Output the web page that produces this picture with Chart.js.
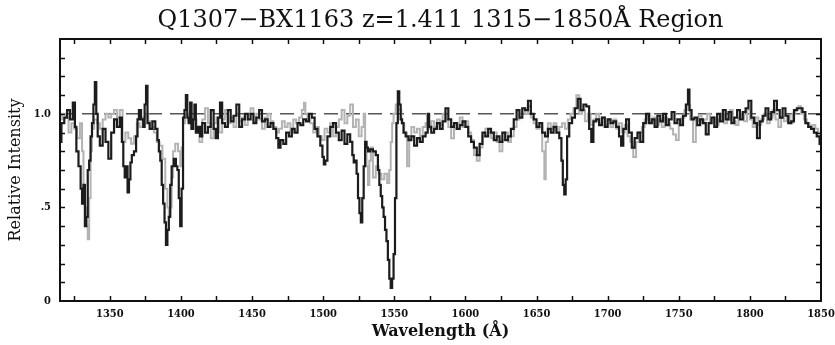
<!DOCTYPE html>
<html>
<head>
<meta charset="utf-8">
<script src="https://cdn.jsdelivr.net/npm/chart.js@4/dist/chart.umd.min.js"></script>
<style>
  html, body { margin: 0; padding: 0; background: #fff; }
  #wrap { width: 835px; height: 345px; position: relative; }
</style>
</head>
<body>
<div id="wrap"><canvas id="specChart"></canvas></div>
<script>
// spectrum 1 (dark trace): wavelength (A) and relative intensity
const blackWave = [
  1315,1317,1319,1321,1323,1325,1326,1327,1329,1330,1331,1332,1333,1334,1335,1336,1337,1338,1339,1340,
  1341,1342,1344,1346,1348,1350,1352,1354,1356,1358,1359,1360,1361,1362,1363,1364,1365,1366,1368,1369,
  1370,1371,1373,1374,1375,1376,1377,1379,1381,1383,1384,1385,1386,1387,1388,1389,1390,1391,1392,1393,
  1394,1396,1397,1398,1399,1400,1401,1402,1403,1404,1405,1406,1407,1408,1409,1410,1411,1413,1414,1416,
  1418,1420,1422,1424,1425,1427,1428,1430,1432,1434,1436,1438,1440,1442,1444,1446,1448,1450,1452,1454,
  1456,1458,1460,1462,1464,1466,1468,1469,1471,1473,1475,1477,1479,1481,1483,1485,1487,1489,1491,1493,
  1495,1497,1499,1500,1501,1502,1504,1506,1508,1510,1512,1514,1516,1518,1520,1521,1522,1523,1524,1525,
  1526,1527,1528,1529,1530,1531,1532,1534,1536,1538,1539,1540,1541,1542,1543,1544,1545,1546,1547,1548,
  1549,1550,1551,1552,1553,1554,1555,1556,1557,1559,1561,1563,1565,1567,1569,1571,1573,1574,1575,1577,
  1579,1581,1583,1585,1587,1589,1591,1593,1595,1597,1599,1601,1603,1605,1607,1609,1611,1613,1615,1617,
  1619,1621,1623,1625,1627,1629,1631,1633,1635,1637,1639,1641,1643,1645,1647,1649,1651,1653,1655,1657,
  1659,1661,1663,1665,1667,1668,1669,1670,1671,1672,1674,1676,1678,1680,1682,1684,1686,1688,1689,1691,
  1693,1695,1697,1699,1701,1703,1705,1707,1709,1710,1712,1714,1716,1718,1720,1722,1724,1726,1728,1730,
  1732,1734,1736,1738,1740,1742,1744,1746,1748,1750,1752,1754,1756,1757,1758,1760,1762,1764,1766,1768,
  1770,1772,1774,1776,1778,1780,1782,1784,1786,1788,1790,1792,1794,1796,1798,1800,1802,1804,1806,1808,
  1810,1812,1814,1816,1818,1820,1822,1824,1826,1828,1830,1832,1834,1836,1838,1840,1842,1844,1846,1848,
  1850
];
const blackFlux = [
  0.85,0.95,0.98,1.02,0.97,1.06,0.93,0.80,0.72,0.60,0.52,0.62,0.40,0.45,0.70,0.75,0.88,0.95,1.05,1.17,
  1.00,0.88,0.83,0.92,0.85,0.76,0.90,0.97,0.93,0.98,0.85,0.72,0.66,0.72,0.58,0.65,0.74,0.78,0.80,0.88,
  0.97,1.02,0.97,0.93,1.05,1.15,0.95,0.92,0.96,0.92,0.86,0.80,0.75,0.62,0.52,0.42,0.30,0.38,0.45,0.62,
  0.72,0.76,0.72,0.70,0.55,0.40,0.60,0.98,1.02,1.10,0.98,0.95,1.06,0.92,0.97,1.05,0.90,0.93,0.88,0.95,
  0.90,0.93,1.02,0.92,0.87,0.98,1.06,0.95,0.93,1.02,0.96,0.99,1.05,0.93,0.97,1.00,0.97,1.00,0.95,0.98,
  1.02,0.96,0.97,0.93,0.95,0.92,0.87,0.82,0.86,0.84,0.90,0.88,0.92,0.90,0.95,0.94,0.97,0.96,1.00,0.98,
  0.92,0.88,0.83,0.77,0.73,0.75,0.88,0.93,0.95,0.90,0.86,0.91,0.84,0.89,0.85,0.78,0.74,0.75,0.68,0.55,
  0.47,0.42,0.55,0.72,0.85,0.82,0.80,0.81,0.80,0.78,0.70,0.62,0.56,0.50,0.45,0.38,0.32,0.22,0.12,0.07,
  0.12,0.25,0.55,0.95,1.12,1.05,0.97,0.95,0.90,0.88,0.86,0.88,0.83,0.87,0.85,0.88,0.90,1.00,0.93,0.90,
  0.92,0.95,0.92,0.96,1.03,0.97,0.93,0.95,0.92,0.94,0.96,0.93,0.88,0.85,0.82,0.78,0.84,0.90,0.88,0.92,
  0.90,0.86,0.88,0.85,0.90,0.86,0.88,0.92,0.97,1.02,0.98,1.03,1.02,1.07,1.00,0.97,0.93,0.95,0.90,0.88,
  0.92,0.90,0.93,0.90,0.87,0.75,0.62,0.57,0.65,0.88,0.95,0.98,1.03,1.08,1.02,1.05,1.04,0.92,0.85,0.96,
  0.97,0.94,0.98,0.93,0.97,0.95,0.96,0.93,0.88,0.83,0.92,0.97,0.90,0.82,0.87,0.90,0.85,0.95,1.00,0.95,
  0.97,0.93,0.99,0.96,1.00,0.94,0.97,1.01,0.95,0.97,0.94,0.99,1.05,1.13,1.02,0.97,0.98,0.94,0.97,0.95,
  0.89,0.95,0.98,0.93,1.00,0.96,1.02,0.97,1.01,0.95,0.98,1.02,0.97,1.01,1.03,1.07,0.98,0.95,0.87,0.96,
  0.99,1.03,0.97,1.01,1.07,1.02,0.98,1.03,0.99,0.95,0.96,1.02,1.03,1.03,1.01,0.95,0.93,0.92,0.90,0.88,
  0.84
];

// spectrum 2 (light trace)
const grayWave = [
  1315,1318,1320,1322,1324,1326,1328,1330,1331,1332,1333,1334,1335,1336,1337,1338,1340,1342,1344,1346,
  1348,1350,1352,1354,1356,1358,1360,1362,1364,1366,1368,1370,1372,1374,1376,1378,1380,1382,1384,1386,
  1388,1390,1391,1392,1393,1394,1395,1397,1399,1400,1401,1402,1404,1406,1408,1410,1412,1414,1416,1418,
  1420,1422,1424,1426,1428,1430,1432,1434,1436,1438,1440,1442,1444,1446,1448,1450,1452,1454,1456,1458,
  1460,1462,1464,1466,1468,1470,1472,1474,1476,1478,1480,1482,1484,1486,1487,1488,1490,1492,1494,1496,
  1498,1500,1502,1504,1506,1508,1510,1512,1514,1516,1518,1520,1522,1524,1526,1528,1529,1530,1531,1532,
  1533,1534,1536,1538,1540,1542,1544,1546,1547,1548,1549,1550,1552,1554,1556,1558,1560,1561,1563,1565,
  1567,1569,1571,1573,1575,1577,1579,1581,1583,1585,1587,1589,1591,1593,1595,1597,1599,1601,1603,1605,
  1607,1609,1611,1613,1615,1617,1619,1621,1623,1625,1627,1629,1631,1633,1635,1637,1639,1641,1643,1645,
  1647,1649,1651,1653,1655,1656,1657,1659,1661,1663,1665,1667,1669,1671,1673,1675,1677,1679,1681,1683,
  1685,1687,1689,1691,1693,1695,1697,1699,1701,1703,1705,1707,1709,1711,1713,1715,1717,1719,1721,1723,
  1725,1727,1729,1731,1733,1735,1737,1739,1741,1743,1745,1747,1749,1751,1753,1755,1757,1759,1761,1763,
  1765,1767,1769,1771,1773,1775,1777,1779,1781,1783,1785,1787,1789,1791,1793,1795,1797,1799,1801,1803,
  1805,1807,1809,1811,1813,1815,1817,1819,1821,1823,1825,1827,1829,1831,1833,1835,1837,1839,1841,1843,
  1845,1847,1849
];
const grayFlux = [
  0.97,1.00,0.98,0.90,0.95,0.92,0.87,0.95,0.80,0.60,0.50,0.40,0.33,0.55,0.80,0.92,0.97,0.95,0.92,0.97,
  1.00,0.98,1.00,1.02,0.98,1.02,0.85,0.90,0.87,0.84,0.88,0.95,0.93,0.98,1.00,0.96,0.93,0.90,0.85,0.83,
  0.76,0.60,0.50,0.45,0.50,0.66,0.80,0.84,0.80,0.72,0.82,0.95,1.00,0.96,0.92,0.97,0.93,0.85,0.97,1.03,
  0.95,0.87,0.95,0.98,0.90,0.97,1.02,0.95,0.98,0.93,1.00,0.96,0.98,0.94,1.00,1.03,0.96,1.00,0.97,0.92,
  0.98,1.00,0.96,0.93,0.90,0.92,0.96,0.93,0.95,0.90,0.97,0.95,0.98,1.02,1.06,1.00,0.97,0.95,0.90,0.93,
  0.88,0.86,0.92,0.90,0.95,0.88,0.93,0.97,1.02,0.95,0.99,1.05,0.93,0.97,0.88,0.93,1.00,0.85,0.72,0.62,
  0.75,0.82,0.66,0.72,0.68,0.65,0.68,0.63,0.70,0.85,0.95,1.00,1.05,1.02,0.95,0.90,0.72,0.88,0.93,0.90,
  0.92,0.88,0.93,0.95,0.92,0.96,0.93,0.97,0.94,1.00,0.97,0.93,0.87,0.92,0.95,0.98,0.93,0.96,0.90,0.86,
  0.78,0.75,0.82,0.88,0.92,0.90,0.87,0.90,0.85,0.80,0.86,0.90,0.85,0.88,0.93,0.97,1.00,1.03,1.00,1.04,
  0.98,0.95,0.92,0.93,0.80,0.65,0.85,0.95,0.92,0.95,0.90,0.93,0.95,0.92,0.97,1.00,1.03,1.10,1.00,1.02,
  0.96,1.00,0.94,0.97,1.00,0.95,0.98,0.94,0.97,0.93,0.97,0.92,0.95,0.90,0.94,0.88,0.85,0.77,0.85,0.90,
  0.93,0.97,1.00,0.95,0.98,0.94,0.97,0.93,0.98,0.95,0.92,0.89,0.86,0.95,0.98,1.02,1.05,0.97,0.85,0.96,
  0.99,0.95,0.97,1.00,0.95,0.98,0.94,0.97,1.00,0.95,0.97,1.02,0.96,0.94,0.98,1.00,0.96,1.02,0.97,0.93,
  0.98,0.94,0.97,1.00,0.95,0.98,1.02,0.97,0.93,0.98,0.96,0.99,0.95,1.00,1.02,1.04,1.00,0.97,0.95,0.93,
  0.94,0.92,0.90
];

// continuum level (dashed)
const continuumWave = [1315, 1850];
const continuumFlux = [1.0, 1.0];

// axes
const xRange = [1315, 1850];
const yRange = [0, 1.4];
const xTickLabels = [1350, 1400, 1450, 1500, 1550, 1600, 1650, 1700, 1750, 1800, 1850];
const xMinorTicks = [1325, 1350, 1375, 1400, 1425, 1450, 1475, 1500, 1525, 1550, 1575, 1600, 1625,
                     1650, 1675, 1700, 1725, 1750, 1775, 1800, 1825];
const yTickLabels = [0, 0.5, 1.0];
const yTickText = ['0', '.5', '1.0'];
const yMinorTicks = [0.1, 0.2, 0.3, 0.4, 0.5, 0.6, 0.7, 0.8, 0.9, 1.0, 1.1, 1.2, 1.3];

const titleText = 'Q1307\u2212BX1163 z=1.411 1315\u22121850\u00C5 Region';
const xTitle = 'Wavelength (\u00C5)';
const yTitle = 'Relative Intensity';

const SERIF = "'DejaVu Serif', 'Liberation Serif', serif";
const SERIF_COND = "'DejaVu Serif Condensed', 'DejaVu Serif', serif";

function toPoints(w, f) {
    return w.map((x, i) => ({ x: x, y: f[i] }));
}

// frame, inward tick marks and the title centred over the plot box
const framePlugin = {
    id: 'frame',
    afterDraw(chart) {
        const { ctx, chartArea: a, scales } = chart;
        const tl = 5;
        ctx.save();
        ctx.strokeStyle = '#111';
        ctx.lineWidth = 2;
        ctx.strokeRect(a.left, a.top, a.right - a.left, a.bottom - a.top);
        ctx.lineWidth = 1.5;
        ctx.beginPath();
        xMinorTicks.forEach(v => {
            const px = Math.round(scales.x.getPixelForValue(v)) + 0.5;
            ctx.moveTo(px, a.bottom); ctx.lineTo(px, a.bottom - tl);
            ctx.moveTo(px, a.top); ctx.lineTo(px, a.top + tl);
        });
        yMinorTicks.forEach(v => {
            const py = Math.round(scales.y.getPixelForValue(v)) + 0.5;
            ctx.moveTo(a.left, py); ctx.lineTo(a.left + tl, py);
            ctx.moveTo(a.right, py); ctx.lineTo(a.right - tl, py);
        });
        ctx.stroke();

        ctx.fillStyle = '#111';
        ctx.font = '24px ' + SERIF;
        ctx.textAlign = 'center';
        ctx.textBaseline = 'alphabetic';
        ctx.fillText(titleText, (a.left + a.right) / 2, 27);
        ctx.restore();
    }
};

const tickFont = { family: SERIF_COND, size: 11, weight: 'bold' };

new Chart(document.getElementById('specChart'), {
    type: 'line',
    data: {
        datasets: [
            {
                data: toPoints(continuumWave, continuumFlux),
                borderColor: '#555',
                borderWidth: 1.5,
                borderDash: [14, 8],
                pointRadius: 0,
                order: 3
            },
            {
                data: toPoints(grayWave, grayFlux),
                borderColor: '#b3b3b3',
                borderWidth: 2,
                stepped: 'middle',
                pointRadius: 0,
                order: 2
            },
            {
                data: toPoints(blackWave, blackFlux),
                borderColor: '#1c1c1c',
                borderWidth: 2.2,
                stepped: 'middle',
                pointRadius: 0,
                order: 1
            }
        ]
    },
    options: {
        responsive: true,
        maintainAspectRatio: false,
        animation: false,
        layout: { padding: { left: 0, right: 14, top: 39, bottom: 0 } },
        plugins: {
            legend: { display: false },
            tooltip: { enabled: false },
            title: { display: false }
        },
        scales: {
            x: {
                type: 'linear',
                min: xRange[0],
                max: xRange[1],
                afterBuildTicks: s => { s.ticks = xTickLabels.map(v => ({ value: v })); },
                afterFit: s => { s.height = 44; s.paddingLeft = 0; s.paddingRight = 0; },
                grid: { display: false, drawTicks: false },
                border: { display: false },
                ticks: {
                    color: '#111', font: tickFont, padding: 7, maxRotation: 0, autoSkip: false,
                    callback: v => String(v)
                },
                title: {
                    display: true,
                    text: xTitle,
                    color: '#111',
                    font: { family: SERIF, size: 16, weight: 'bold' },
                    padding: { top: 0, bottom: 4 }
                }
            },
            y: {
                min: yRange[0],
                max: yRange[1],
                afterBuildTicks: s => { s.ticks = yTickLabels.map(v => ({ value: v })); },
                afterFit: s => { s.width = 60; s.paddingTop = 0; s.paddingBottom = 0; },
                grid: { display: false, drawTicks: false },
                border: { display: false },
                ticks: {
                    color: '#111',
                    font: tickFont,
                    padding: 9,
                    callback: (v) => yTickText[yTickLabels.indexOf(v)]
                },
                title: {
                    display: true,
                    text: yTitle,
                    color: '#111',
                    font: { family: SERIF, size: 16, weight: 'normal' },
                    padding: { top: 6, bottom: 0 }
                }
            }
        }
    },
    plugins: [framePlugin]
});
</script>
</body>
</html>
